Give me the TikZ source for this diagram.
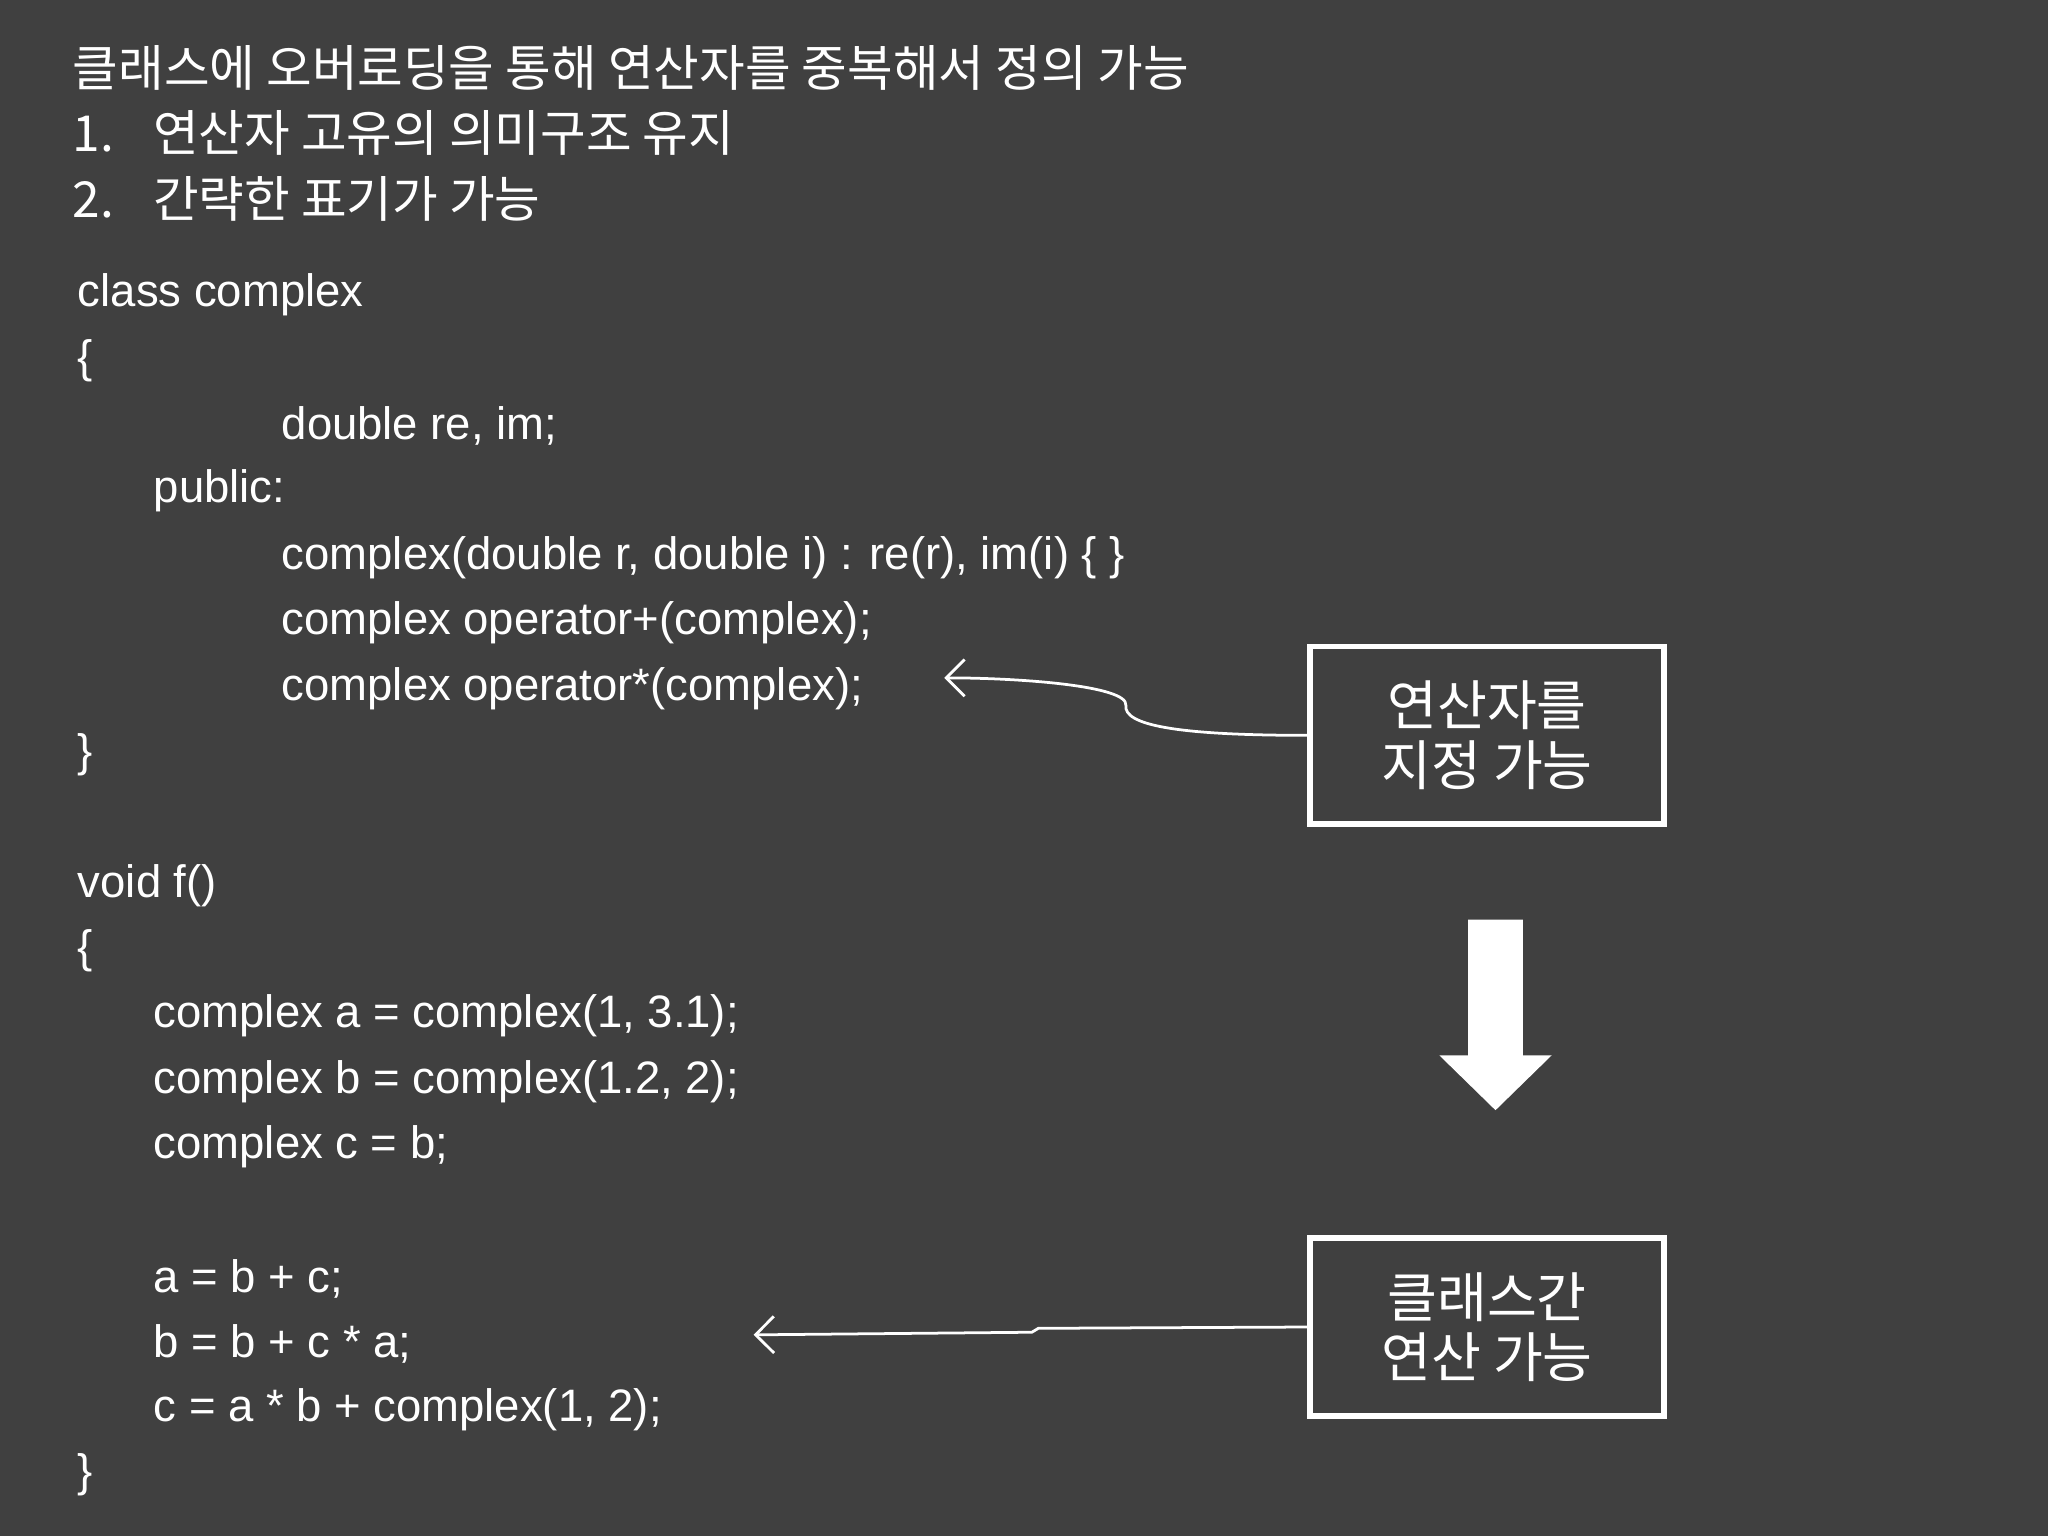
\documentclass[tikz,border=0pt]{standalone}
\usepackage{fontspec}
\usetikzlibrary{arrows.meta}
\setmainfont{Liberation Sans}
\newfontfamily\kr{Noto Sans CJK KR}
\begin{document}
\begin{tikzpicture}[x=0.01cm,y=-0.01cm,
  code/.style={anchor=west,text=white,font=\fontsize{9.9pt}{12pt}\selectfont,inner sep=0,yshift=-0.03cm},
  hdr/.style={anchor=west,text=white,font=\kr\fontsize{10.8pt}{12pt}\selectfont,inner sep=0},
  lbl/.style={draw=white,line width=1.2pt,minimum width=2.71cm,minimum height=1.36cm,text=white,align=center,font=\kr\fontsize{11.8pt}{13pt}\selectfont},
  conn/.style={white,line width=0.6pt,-{Straight Barb[length=4pt]}}]
\fill[black!75] (0,0) rectangle (1568,1176);
\useasboundingbox (0,0) rectangle (1568,1176);
\node[hdr] (h0) at (55,52) {클래스에 오버로딩을 통해 연산자를 중복해서 정의 가능};
\node[hdr] (h1) at (55,102) {1.\hspace{0.3cm}연산자 고유의 의미구조 유지};
\node[hdr] (h2) at (55,152) {2.\hspace{0.3cm}간략한 표기가 가능};
\node[code] (c1) at (59,223) {class complex};
\node[code] (c2) at (59,273) {\{};
\node[code] (c3) at (215,323) {double re, im;};
\node[code] (c4) at (117,373) {public:};
\node[code] (c5) at (215,424) {complex(double r, double i) : re(r), im(i) \{ \}};
\node[code] (c6) at (215,474) {complex operator+(complex);};
\node[code] (c7) at (215,524) {complex operator*(complex);};
\node[code] (c8) at (59,575) {\}};
\node[code] (d1) at (59,675) {void f()};
\node[code] (d2) at (59,725) {\{};
\node[code] (d3) at (117,775) {complex a = complex(1, 3.1);};
\node[code] (d4) at (117,825) {complex b = complex(1.2, 2);};
\node[code] (d5) at (117,875) {complex c = b;};
\node[code] (d6) at (117,976) {a = b + c;};
\node[code] (d7) at (117,1026) {b = b + c * a;};
\node[code] (d8) at (117,1076) {c = a * b + complex(1, 2);};
\node[code] (d9) at (59,1126) {\}};
\node[lbl] (b1) at (1138.5,563) {연산자를\\지정 가능};
\node[lbl] (b2) at (1138.5,1016) {클래스간\\연산 가능};
\coordinate (t1) at (723,519);
\coordinate (t2) at (577,1022);
\draw[conn] (b1.west) .. controls (900,563) and (860,555) .. (862,540) .. controls (864,525) and (780,519) .. (t1);
\draw[conn] (b2.west) -- (795,1017) -- (790,1020) -- (t2);
\fill[white] (1124,704) -- (1166,704) -- (1166,808) -- (1188,808) -- (1145,850) -- (1102,808) -- (1124,808) -- cycle;
\end{tikzpicture}
\end{document}
